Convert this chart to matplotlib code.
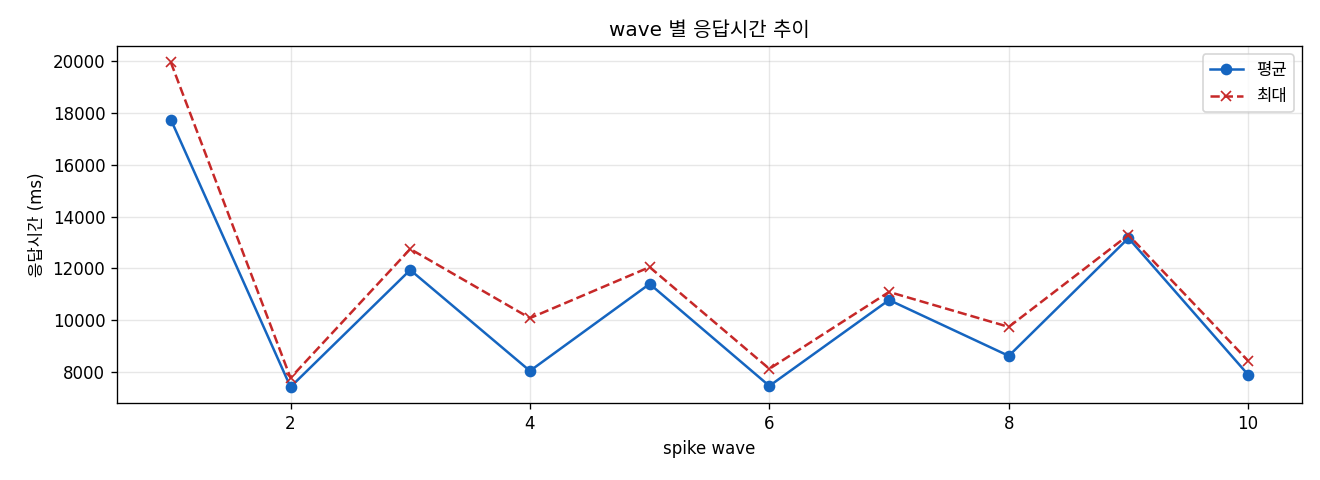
import matplotlib
matplotlib.use("Agg")
from matplotlib import pyplot as plt

plt.rcParams['font.family'] = ['DejaVu Sans', 'Noto Sans CJK KR']
plt.rcParams['axes.unicode_minus'] = False

waves = [1, 2, 3, 4, 5, 6, 7, 8, 9, 10]
avg_ms = [17750, 7420, 11940, 8040, 11400, 7460, 10780, 8620, 13170, 7890]
max_ms = [19960, 7770, 12750, 10080, 12050, 8120, 11090, 9740, 13290, 8430]

fig, ax = plt.subplots(figsize=(11, 4), dpi=120)
ax.plot(waves, avg_ms, marker='o', color='#1565C0', label='평균')
ax.plot(waves, max_ms, marker='x', linestyle='--', color='#C62828', label='최대')
ax.set_title('wave 별 응답시간 추이')
ax.set_xlabel('spike wave')
ax.set_ylabel('응답시간 (ms)')
ax.grid(True, alpha=0.3)
ax.legend()
fig.subplots_adjust(left=0.0886, right=0.9864, top=0.904, bottom=0.160)
fig.savefig('out.png')
